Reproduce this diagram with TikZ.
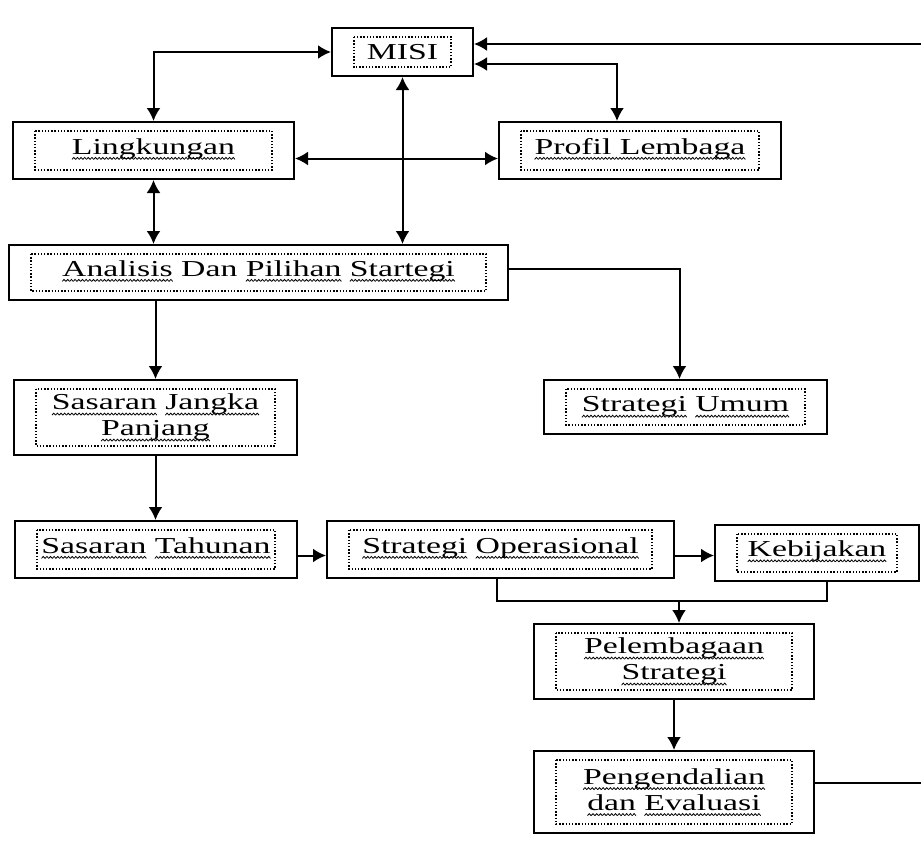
\documentclass[tikz,border=0pt]{standalone}
\usepackage{fontspec}
\setmainfont{Liberation Serif}[FakeStretch=1.48]
\usepackage{tikz}
\usetikzlibrary{positioning,calc}
\usetikzlibrary{arrows.meta}

% spelling squiggle under a word
\newsavebox\wavebox
\newsavebox\splword
\newcommand\makewave{\sbox\wavebox{\pgfpicture
  \pgfpathrectangle{\pgfpointorigin}{\pgfpoint{1.8pt}{1pt}}\pgfusepath{use as bounding box}
  \pgfsetlinewidth{0.4pt}
  \pgfpathmoveto{\pgfpointorigin}\pgfpathlineto{\pgfpoint{0.9pt}{1pt}}\pgfpathlineto{\pgfpoint{1.8pt}{0pt}}
  \pgfusepath{stroke}\endpgfpicture}}
\newcommand\spl[1]{\sbox\splword{#1}%
  \rlap{\lower2.7pt\hbox to\wd\splword{\color{red!65!black}\xleaders\copy\wavebox\hfill}}\usebox\splword}

\tikzset{
  box/.style={draw, line width=1pt, align=center, inner sep=0pt,
    font=\fontsize{11.4}{13}\selectfont,
    path picture={\draw[dotbox] ([xshift=11pt,yshift=-4.5pt]path picture bounding box.north west)
      rectangle ([xshift=-11pt,yshift=4.5pt]path picture bounding box.south east);}},
  oneline/.style={text height=8pt, text depth=4.5pt},
  dotbox/.style={line width=0.7pt, dash pattern=on 0.7pt off 0.9pt},
  link/.style={line width=1pt, >={Latex[length=6.5pt,width=7pt]}}
}

\begin{document}
\begin{tikzpicture}[x=0.5pt, y=-0.5pt]
    \makewave
    \useasboundingbox (0,0) rectangle (921,841);

    \node (misi) [box, minimum width=70.5pt, minimum height=24pt] at (402.5,50) {MISI};
    \node (ling) [box, oneline, minimum width=140.5pt, minimum height=28.5pt] at (153.5,148.5) {\spl{Lingkungan}};
    \node (profil) [box, oneline, minimum width=141pt, minimum height=28.5pt] at (640,148.5) {\spl{Profil Lembaga}};
    \node (analisis) [box, oneline, minimum width=249.5pt, minimum height=27.5pt] at (258.5,270.5) {\spl{Analisis} Dan \spl{Pilihan} \spl{Startegi}};
    \node (sjp) [box, minimum width=141.5pt, minimum height=37.5pt] at (155.5,415.5) {\spl{Sasaran} \spl{Jangka}\\\spl{Panjang}};
    \node (umum) [box, minimum width=141.5pt, minimum height=27pt] at (685.5,405) {\spl{Strategi} \spl{Umum}};
    \node (stah) [box, oneline, minimum width=141pt, minimum height=28.5pt] at (156,547.5) {\spl{Sasaran} \spl{Tahunan}};
    \node (sop) [box, oneline, minimum width=173.5pt, minimum height=28.5pt] at (500.5,547.5) {\spl{Strategi} \spl{Operasional}};
    \node (keb) [box, oneline, minimum width=102pt, minimum height=28pt] at (817,551) {\spl{Kebijakan}};
    \node (pel) [box, minimum width=140pt, minimum height=37.5pt] at (674,659.5) {\spl{Pelembagaan}\\\spl{Strategi}};
    \node (peng) [box, minimum width=140pt, minimum height=41pt] at (674,790) {\spl{Pengendalian}\\\spl{dan} \spl{Evaluasi}};

    \coordinate (join) at (679,599);

    % top part
    \draw[link, <->] (misi.west) -| (ling.north);
    \draw[link, <->] ([yshift=-6pt]misi.east) -| ([xshift=-11.5pt]profil.north);
    \draw[link, <->] (misi.south) -- (misi.south |- analisis.north);
    \draw[link, <->] ([yshift=-4pt]ling.east) -- ([yshift=-4pt]profil.west);
    \draw[link, <->] (ling.south) -- (ling.south |- analisis.north);

    % from the analysis down
    \draw[link, ->] (analisis.south -| sjp.north) -- (sjp.north);
    \draw[link, ->] ([yshift=2pt]analisis.east) -| ([xshift=-3pt]umum.north);
    \draw[link, ->] (sjp.south) -- (sjp.south |- stah.north);
    \draw[link, ->] ([yshift=-3pt]stah.east) -- ([yshift=-3pt]sop.west);
    \draw[link, ->] ([yshift=-3pt]sop.east) -- ([yshift=-1.25pt]keb.west);
    \draw[link] ([xshift=-2pt]sop.south) |- (join) -| ([xshift=5pt]keb.south);
    \draw[link, ->] (join) -- (join |- pel.north);
    \draw[link, ->] (pel.south) -- (peng.north);

    % feedback to the mission
    \draw[link, ->] ([yshift=4.5pt]peng.east) -- ++(68pt,0) |- ([yshift=4pt]misi.east);
\end{tikzpicture}
\end{document}
